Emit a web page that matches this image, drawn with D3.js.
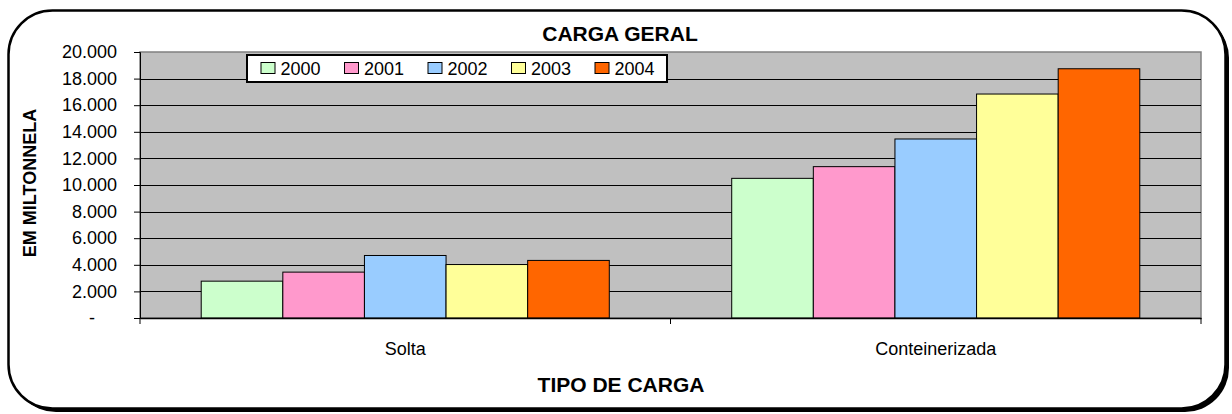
<!DOCTYPE html>
<html>
<head>
<meta charset="utf-8">
<script src="https://cdn.jsdelivr.net/npm/d3@7"></script>
<style>
  body { margin: 0; background: #fff; }
  svg text { font-family: "Liberation Sans", Arial, sans-serif; fill: #000; }
</style>
</head>
<body>
<svg id="chart" width="1232" height="414"></svg>
<script>
const categories = ["Solta", "Conteinerizada"];
const years = ["2000", "2001", "2002", "2003", "2004"];
const values2000 = [2770, 10500];
const values2001 = [3450, 11380];
const values2002 = [4700, 13460];
const values2003 = [4020, 16840];
const values2004 = [4330, 18740];
const yTicks = [0, 2000, 4000, 6000, 8000, 10000, 12000, 14000, 16000, 18000, 20000];
const colors = ["#CCFFCC", "#FF99CC", "#99CCFF", "#FFFF99", "#FF6600"];

const seriesValues = [values2000, values2001, values2002, values2003, values2004];
const rows = [];
categories.forEach((c, ci) => {
  years.forEach((yr, yi) => rows.push({ cat: c, year: yr, value: seriesValues[yi][ci] }));
});

const PLOT = { left: 140, right: 1201, top: 52, bottom: 318 };

const svg = d3.select("#chart");

// outer frame with shadow
svg.append("rect")
  .attr("x", 12).attr("y", 14)
  .attr("width", 1217).attr("height", 398)
  .attr("rx", 44).attr("ry", 44)
  .attr("fill", "#000");
svg.append("rect")
  .attr("x", 8.5).attr("y", 10.5)
  .attr("width", 1217).attr("height", 398)
  .attr("rx", 44).attr("ry", 44)
  .attr("fill", "#fff")
  .attr("stroke", "#000")
  .attr("stroke-width", 2.5);

const x0 = d3.scaleBand().domain(categories).range([PLOT.left, PLOT.right]).padding(0);
const x1 = d3.scaleBand().domain(years).range([0, x0.bandwidth()]).paddingInner(0).paddingOuter(0.75);
const y = d3.scaleLinear().domain([0, 20000]).range([PLOT.bottom, PLOT.top]);
const color = d3.scaleOrdinal().domain(years).range(colors);

// plot area
svg.append("rect")
  .attr("x", PLOT.left).attr("y", PLOT.top)
  .attr("width", PLOT.right - PLOT.left).attr("height", PLOT.bottom - PLOT.top)
  .attr("fill", "#C0C0C0")
  .attr("stroke", "#808080")
  .attr("stroke-width", 1.5);

// gridlines
svg.append("g")
  .selectAll("line")
  .data(yTicks.filter(d => d > 0 && d < 20000))
  .join("line")
  .attr("x1", PLOT.left).attr("x2", PLOT.right)
  .attr("y1", d => Math.round(y(d)) + 0.5).attr("y2", d => Math.round(y(d)) + 0.5)
  .attr("stroke", "#000").attr("stroke-width", 1);

// bars
svg.append("g")
  .selectAll("rect")
  .data(rows)
  .join("rect")
  .attr("x", d => x0(d.cat) + x1(d.year))
  .attr("y", d => y(d.value))
  .attr("width", x1.bandwidth())
  .attr("height", d => y(0) - y(d.value))
  .attr("fill", d => color(d.year))
  .attr("stroke", "#000")
  .attr("stroke-width", 1);

// y axis
const yAxis = svg.append("g")
  .attr("transform", `translate(${PLOT.left},0)`)
  .call(d3.axisLeft(y).tickValues(yTicks).tickSize(6).tickPadding(17)
    .tickFormat(d => d === 0 ? "-" : d3.format(",")(d).replace(/,/g, ".")));
yAxis.select(".domain").attr("stroke", "#000");
yAxis.selectAll("line").attr("stroke", "#000");
yAxis.selectAll("text")
  .style("font-size", "18px")
  .attr("dx", d => d === 0 ? -22 : 0);

// x axis
const xAxis = svg.append("g")
  .attr("transform", `translate(0,${PLOT.bottom})`)
  .call(d3.axisBottom(x0).tickSize(0).tickPadding(24));
xAxis.select(".domain").attr("stroke", "#000").attr("stroke-width", 1.5);
xAxis.selectAll("text").style("font-size", "18px");
svg.append("g")
  .selectAll("line")
  .data([PLOT.left, x0(categories[1]), PLOT.right])
  .join("line")
  .attr("x1", d => d).attr("x2", d => d)
  .attr("y1", PLOT.bottom).attr("y2", PLOT.bottom + 6)
  .attr("stroke", "#000");

// titles
svg.append("text")
  .attr("x", 620).attr("y", 41)
  .attr("text-anchor", "middle")
  .style("font-size", "21px").style("font-weight", "bold")
  .text("CARGA GERAL");
svg.append("text")
  .attr("x", 621).attr("y", 392)
  .attr("text-anchor", "middle")
  .style("font-size", "21px").style("font-weight", "bold")
  .text("TIPO DE CARGA");
svg.append("text")
  .attr("transform", "translate(36,183) rotate(-90)")
  .attr("text-anchor", "middle")
  .style("font-size", "18px").style("font-weight", "bold")
  .text("EM MILTONNELA");

// legend
const legend = svg.append("g").attr("transform", "translate(247,55)");
legend.append("rect")
  .attr("width", 420).attr("height", 27)
  .attr("fill", "#fff").attr("stroke", "#000").attr("stroke-width", 2);
const item = legend.selectAll("g.item")
  .data(years)
  .join("g")
  .attr("class", "item")
  .attr("transform", (d, i) => `translate(${13.5 + i * 83.5},0)`);
item.append("rect")
  .attr("x", 0.5).attr("y", 7.5)
  .attr("width", 14).attr("height", 11)
  .attr("fill", d => color(d))
  .attr("stroke", "#000").attr("stroke-width", 1);
item.append("text")
  .attr("x", 20).attr("y", 20)
  .style("font-size", "18px")
  .text(d => d);
</script>
</body>
</html>
